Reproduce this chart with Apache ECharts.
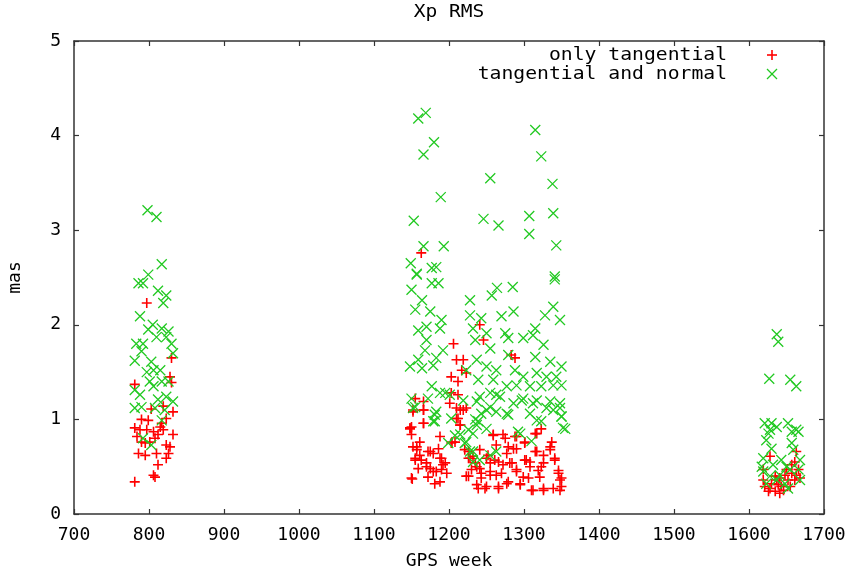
<!DOCTYPE html>
<html>
<head>
<meta charset="utf-8">
<script src="https://cdn.jsdelivr.net/npm/echarts@6/dist/echarts.min.js"></script>
<style>html,body{margin:0;padding:0;background:#fff;}#c{width:857px;height:570px;}</style>
</head>
<body>
<div id="c"></div>
<script>
// ---- data ----
var chartTitle = 'Xp RMS';
var xName = 'GPS week';
var yName = 'mas';
var seriesNames = ['only tangential', 'tangential and normal'];
var xTicks = { min: 700, max: 1700, step: 100 };
var yTicks = { min: 0, max: 5, step: 1 };

// only tangential (red +), [week, mas]
var tan1 = [[797,2.23],[830,1.65],[828,1.45],[781,1.37],[830,1.39],[803,1.11],[819,1.14],[832,1.08],[790,1.0],[799,0.99],[823,1.01],[781,0.91],[788,0.89],[797,0.89],[806,0.87],[815,0.92],[817,0.96],[819,0.89],[784,0.82],[812,0.84],[832,0.84],[790,0.76],[801,0.76],[808,0.80],[823,0.73],[786,0.64],[795,0.62],[810,0.64],[826,0.64],[823,0.59],[812,0.52],[806,0.41],[808,0.39],[781,0.34],[795,0.75],[828,0.71]];
var tan2 = [[1163,2.76],[1241,2.0],[1246,1.84],[1206,1.80],[1283,1.68],[1288,1.65],[1210,1.63],[1219,1.63],[1217,1.52],[1223,1.49],[1203,1.45],[1212,1.40],[1203,1.28],[1212,1.26],[1155,1.22],[1166,1.19],[1201,1.17],[1166,1.10],[1152,1.08],[1215,1.10],[1223,1.12],[1210,1.01],[1215,0.94],[1166,0.96],[1148,0.91],[1150,0.84],[1188,0.82],[1203,0.75],[1208,0.76],[1259,0.84],[1272,0.84],[1288,0.82],[1317,0.85],[1263,0.73],[1279,0.71],[1290,0.69],[1301,0.75],[1337,0.76],[1157,0.71],[1172,0.66],[1179,0.64],[1161,0.62],[1155,0.57],[1188,0.59],[1226,0.66],[1232,0.61],[1252,0.62],[1315,0.66],[1335,0.68],[1326,0.62],[1341,0.57],[1170,0.54],[1192,0.52],[1183,0.45],[1223,0.40],[1237,0.50],[1255,0.54],[1266,0.55],[1281,0.54],[1301,0.57],[1308,0.55],[1323,0.50],[1346,0.46],[1243,0.43],[1255,0.41],[1270,0.43],[1290,0.45],[1306,0.38],[1319,0.46],[1350,0.38],[1150,0.38],[1188,0.34],[1237,0.31],[1248,0.27],[1266,0.29],[1277,0.32],[1295,0.31],[1312,0.25],[1326,0.27],[1348,0.25],[1226,0.59],[1175,0.48],[1151,0.37],[1150,0.92],[1161,0.76],[1152,0.71],[1157,0.68],[1175,0.66],[1186,0.69],[1155,0.59],[1163,0.57],[1190,0.59],[1195,0.54],[1170,0.50],[1159,0.48],[1179,0.45],[1190,0.47],[1197,0.43],[1172,0.39],[1181,0.32],[1221,0.68],[1228,0.59],[1235,0.54],[1230,0.47],[1226,0.40],[1241,0.48],[1250,0.59],[1255,0.45],[1261,0.57],[1272,0.52],[1263,0.41],[1277,0.64],[1286,0.69],[1284,0.54],[1290,0.47],[1303,0.57],[1308,0.50],[1317,0.66],[1326,0.54],[1335,0.71],[1341,0.59],[1346,0.43],[1350,0.29],[1348,0.36],[1339,0.27],[1326,0.25],[1310,0.25],[1295,0.32],[1279,0.34],[1266,0.27],[1250,0.29],[1239,0.27],[1243,0.38],[1299,0.39],[1321,0.39],[1259,0.83],[1275,0.80],[1290,0.82],[1301,0.76],[1315,0.85],[1323,0.90],[1241,0.68],[1204,0.76],[1210,1.12],[1219,1.10],[1212,1.01],[1215,0.94],[1152,1.10],[1166,1.10],[1166,0.96],[1148,0.90]];
var tan3 = [[1628,0.61],[1619,0.47],[1663,0.66],[1661,0.55],[1657,0.52],[1619,0.36],[1621,0.29],[1628,0.27],[1635,0.40],[1637,0.36],[1641,0.38],[1643,0.29],[1648,0.41],[1652,0.36],[1657,0.43],[1663,0.41],[1668,0.38],[1661,0.36],[1626,0.24],[1635,0.24],[1641,0.22],[1639,0.31],[1630,0.32],[1655,0.29],[1646,0.25],[1666,0.47],[1650,0.47]];

// tangential and normal (green x), [week, mas]
var tn1 = [[798,3.21],[810,3.14],[817,2.64],[799,2.53],[786,2.44],[792,2.44],[812,2.36],[823,2.31],[819,2.23],[788,2.09],[805,2.0],[799,1.95],[817,1.96],[826,1.93],[810,1.87],[823,1.87],[830,1.80],[783,1.80],[792,1.80],[790,1.72],[781,1.62],[803,1.61],[832,1.70],[797,1.50],[806,1.52],[815,1.52],[801,1.40],[817,1.40],[826,1.40],[806,1.35],[781,1.31],[788,1.26],[823,1.24],[812,1.21],[832,1.19],[781,1.12],[790,1.13],[808,1.12],[821,1.10],[817,0.99],[792,0.80],[803,0.73]];
var tn2 = [[1159,4.18],[1169,4.24],[1180,3.93],[1166,3.80],[1315,4.06],[1323,3.78],[1255,3.55],[1338,3.49],[1189,3.35],[1153,3.10],[1246,3.12],[1266,3.05],[1307,3.15],[1339,3.18],[1307,2.96],[1166,2.83],[1193,2.83],[1343,2.84],[1149,2.65],[1157,2.53],[1177,2.60],[1183,2.61],[1341,2.51],[1157,2.54],[1177,2.44],[1186,2.44],[1150,2.37],[1257,2.31],[1264,2.39],[1285,2.40],[1341,2.48],[1164,2.26],[1155,2.16],[1175,2.14],[1228,2.26],[1190,2.05],[1228,2.10],[1243,2.07],[1270,2.09],[1286,2.14],[1328,2.10],[1339,2.19],[1348,2.05],[1159,1.94],[1170,1.98],[1188,1.96],[1232,1.96],[1250,1.91],[1275,1.91],[1315,1.96],[1312,1.89],[1170,1.84],[1235,1.84],[1279,1.86],[1299,1.86],[1326,1.79],[1168,1.73],[1192,1.73],[1255,1.75],[1183,1.65],[1237,1.63],[1159,1.63],[1148,1.56],[1164,1.54],[1279,1.68],[1315,1.66],[1335,1.61],[1350,1.56],[1250,1.56],[1263,1.52],[1288,1.52],[1299,1.45],[1317,1.49],[1330,1.45],[1343,1.45],[1179,1.57],[1223,1.52],[1239,1.42],[1259,1.42],[1277,1.35],[1290,1.36],[1308,1.35],[1323,1.35],[1339,1.36],[1350,1.36],[1177,1.35],[1195,1.28],[1150,1.22],[1172,1.22],[1241,1.24],[1255,1.28],[1268,1.24],[1297,1.20],[1317,1.20],[1335,1.19],[1348,1.17],[1155,1.13],[1183,1.08],[1250,1.10],[1263,1.08],[1279,1.05],[1308,1.06],[1339,1.10],[1235,1.0],[1203,1.01],[1323,0.98],[1350,1.03],[1352,0.91],[1181,0.98],[1232,0.85],[1215,0.84],[1292,0.87],[1221,0.75],[1199,0.75],[1228,0.66],[1232,0.55],[1255,0.62],[1188,1.28],[1201,1.26],[1152,1.12],[1181,1.05],[1179,0.98],[1219,1.20],[1237,1.19],[1243,1.06],[1255,1.13],[1263,1.26],[1277,1.06],[1286,1.17],[1299,1.22],[1312,1.17],[1330,1.12],[1348,1.12],[1350,1.03],[1355,0.90],[1317,0.99],[1239,0.98],[1226,0.89],[1208,0.83],[1223,0.76],[1232,0.66],[1241,0.57],[1263,0.66],[1295,0.85],[1310,0.77],[1237,0.94],[1250,0.90]];
var tn3 = [[1637,1.90],[1639,1.82],[1627,1.43],[1655,1.42],[1663,1.35],[1621,0.96],[1630,0.96],[1637,0.92],[1652,0.96],[1657,0.87],[1663,0.89],[1666,0.87],[1628,0.89],[1623,0.78],[1626,0.85],[1657,0.75],[1630,0.69],[1659,0.68],[1619,0.59],[1643,0.57],[1668,0.57],[1617,0.50],[1632,0.52],[1650,0.50],[1619,0.45],[1655,0.47],[1666,0.47],[1628,0.40],[1641,0.41],[1668,0.36],[1637,0.36],[1648,0.32],[1623,0.32],[1652,0.27]];

// ---- chart ----
var FONT = '"DejaVu Sans Mono", "Liberation Mono", monospace';
var RED = '#ff0000', GREEN = '#22c922';
var PLUS = 'path://M0,5L10,5M5,0L5,10';
var CROSS = 'path://M0,0L10,10M10,0L0,10';
var axisLineStyle = { color: '#333', width: 1.5 };

function xAxisDef(pos, showLabels) {
  return {
    type: 'value', position: pos, min: xTicks.min, max: xTicks.max, interval: xTicks.step,
    name: showLabels ? xName : '', nameLocation: 'middle', nameGap: 38,
    nameTextStyle: { fontFamily: FONT, fontSize: 18, color: '#000' },
    axisLine: { show: true, onZero: false, lineStyle: axisLineStyle },
    axisTick: { show: true, inside: true, length: 5, lineStyle: { color: '#333', width: 1.2 } },
    axisLabel: { show: showLabels, fontFamily: FONT, fontSize: 18, color: '#000', margin: 12,
                 formatter: function (v) { return String(v); } },
    splitLine: { show: false }
  };
}
function yAxisDef(pos, showLabels) {
  return {
    type: 'value', position: pos, min: yTicks.min, max: yTicks.max, interval: yTicks.step,
    name: showLabels ? yName : '', nameLocation: 'middle', nameGap: 50, nameRotate: 90,
    nameTextStyle: { fontFamily: FONT, fontSize: 18, color: '#000' },
    axisLine: { show: true, onZero: false, lineStyle: axisLineStyle },
    axisTick: { show: true, inside: true, length: 5, lineStyle: { color: '#333', width: 1.2 } },
    axisLabel: { show: showLabels, fontFamily: FONT, fontSize: 18, color: '#000', margin: 13,
                 formatter: function (v) { return String(v); } },
    splitLine: { show: false }
  };
}

var chart = echarts.init(document.getElementById('c'), null, { renderer: 'canvas' });
chart.setOption({
  animation: false,
  backgroundColor: '#fff',
  grid: { left: 74, right: 33, top: 41, bottom: 56, containLabel: false, outerBoundsMode: 'none' },
  xAxis: [xAxisDef('bottom', true), xAxisDef('top', false)],
  yAxis: [yAxisDef('left', true), yAxisDef('right', false)],
  series: [
    {
      name: seriesNames[0], type: 'scatter', xAxisIndex: 0, yAxisIndex: 0,
      symbol: PLUS, symbolSize: 10,
      itemStyle: { color: RED, borderColor: RED, borderWidth: 1.6, opacity: 1 },
      data: tan1.concat(tan2, tan3)
    },
    {
      name: seriesNames[1], type: 'scatter', xAxisIndex: 0, yAxisIndex: 0,
      symbol: CROSS, symbolSize: 10,
      itemStyle: { color: GREEN, borderColor: GREEN, borderWidth: 1.3, opacity: 1 },
      data: tn1.concat(tn2, tn3)
    }
  ],
  graphic: [
    { type: 'text', x: 449, y: 13, scaleX: 1.15,
      style: { text: chartTitle, font: '17px ' + FONT, fill: '#000', align: 'center', verticalAlign: 'middle', textAlign: 'center', textVerticalAlign: 'middle' } },
    { type: 'text', x: 727, y: 56, scaleX: 1.16,
      style: { text: seriesNames[0], font: '17px ' + FONT, fill: '#000', align: 'right', verticalAlign: 'middle', textAlign: 'right', textVerticalAlign: 'middle' } },
    { type: 'text', x: 727, y: 75, scaleX: 1.16,
      style: { text: seriesNames[1], font: '17px ' + FONT, fill: '#000', align: 'right', verticalAlign: 'middle', textAlign: 'right', textVerticalAlign: 'middle' } },
    { type: 'line', shape: { x1: 767, y1: 55, x2: 777, y2: 55 }, style: { stroke: RED, lineWidth: 1.6 } },
    { type: 'line', shape: { x1: 772, y1: 50, x2: 772, y2: 60 }, style: { stroke: RED, lineWidth: 1.6 } },
    { type: 'line', shape: { x1: 767, y1: 69, x2: 777, y2: 79 }, style: { stroke: GREEN, lineWidth: 1.3 } },
    { type: 'line', shape: { x1: 777, y1: 69, x2: 767, y2: 79 }, style: { stroke: GREEN, lineWidth: 1.3 } }
  ]
});
</script>
</body>
</html>
